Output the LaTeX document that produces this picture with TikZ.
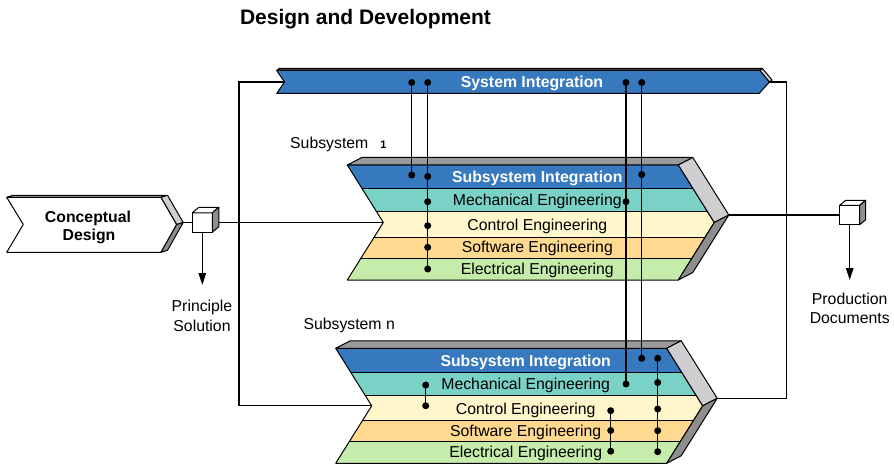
\documentclass[tikz,border=0pt]{standalone}
\usepackage{fontspec}
\setmainfont{Liberation Sans}
\usetikzlibrary{arrows.meta}

\definecolor{sysblue}{HTML}{3779BE}
\definecolor{mechteal}{HTML}{7AD2C6}
\definecolor{ctrlyellow}{HTML}{FFF6CC}
\definecolor{softorange}{HTML}{FFD98F}
\definecolor{elecgreen}{HTML}{C5ECAA}
\definecolor{topgrey}{HTML}{9A9A9A}
\definecolor{bevellight}{HTML}{CFCFD2}
\definecolor{beveldark}{HTML}{8E8E8E}

\tikzset{
  outline/.style={draw=black, line width=1pt, line join=round},
  wire/.style={draw=black, line width=1.3pt},
  loopwire/.style={draw=black, line width=1.1pt},
  junction/.style={circle, fill=black, inner sep=0pt, minimum size=7pt},
  bandtext/.style={font=\fontsize{15.8}{18}\selectfont, inner sep=0pt,
    text height=11.3pt, text depth=0pt},
  bandhead/.style={bandtext, font=\bfseries\fontsize{15.8}{18}\selectfont, text=white},
  plainlabel/.style={bandtext, text=black},
  boldlabel/.style={bandtext, font=\bfseries\fontsize{15.8}{18}\selectfont},
  cubefront/.style={draw=black, line width=1pt, fill=white, minimum width=20pt,
    minimum height=19.4pt, inner sep=0pt, outer sep=0pt},
  outarrow/.style={wire, -{Triangle[length=12pt,width=7.5pt]}},
}

% One engineering subsystem: a 3D chevron with five discipline bands.
% #1 = name prefix, #2 = left x, #3 = top y
\newcommand\subsysblock[3]{%
  \begin{scope}[shift={(#2,#3)}]
    \coordinate (#1-notch) at (36,57.5);
    \coordinate (#1-tip) at (381.5,50);
    \begin{scope}
      \clip (0,0) -- (331,0) -- (367,57.5) -- (331,115) -- (0,115) -- (36,57.5) -- cycle;
      \fill[sysblue]    (0,0)  rectangle (370,24);
      \fill[mechteal]   (0,24) rectangle (370,47);
      \fill[ctrlyellow] (0,47) rectangle (370,72);
      \fill[softorange] (0,72) rectangle (370,93);
      \fill[elecgreen]  (0,93) rectangle (370,115);
      \draw[line width=1pt] (0,24) -- (370,24) (0,47) -- (370,47)
                            (0,72) -- (370,72) (0,93) -- (370,93);
    \end{scope}
    \draw[outline] (0,0) -- (331,0) -- (367,57.5) -- (331,115) -- (0,115) -- (36,57.5) -- cycle;
    \filldraw[outline, fill=topgrey] (0,0) -- (14.5,-7.5) -- (345.5,-7.5) -- (331,0) -- cycle;
    \filldraw[outline, fill=bevellight] (331,0) -- (345.5,-7.5) -- (381.5,50) -- (367,57.5) -- cycle;
    \filldraw[outline, fill=beveldark] (367,57.5) -- (381.5,50) -- (345.5,107.5) -- (331,115) -- cycle;
    \node[bandhead] (#1-int)  at (190,12.3) {Subsystem Integration};
    \node[bandtext] (#1-mech) at (190,35.3) {Mechanical Engineering};
    \node[bandtext] (#1-ctrl) at (190,60.3) {Control Engineering};
    \node[bandtext] (#1-soft) at (190,82.3) {Software Engineering};
    \node[bandtext] (#1-elec) at (190,104)  {Electrical Engineering};
  \end{scope}%
}

\begin{document}
\begin{tikzpicture}[x=1pt, y=-1pt]
  \useasboundingbox (0,0) rectangle (894,465);

  % title
  \node[font=\bfseries\fontsize{21}{24}\selectfont, inner sep=0pt,
        text height=15pt, text depth=0pt] (title) at (365.5,17.5) {Design and Development};

  % system integration bar
  \filldraw[outline, fill=sysblue] (276.7,70.5) -- (760,70.5) -- (769.5,82) -- (759,93.5)
      -- (276.7,93.5) -- (284.5,82) -- cycle;
  \filldraw[outline, fill=black!75] (276.7,70.5) -- (279.2,68.5) -- (762.5,68.5) -- (760,70.5) -- cycle;
  \filldraw[outline, fill=bevellight] (760,70.5) -- (762.5,68.5) -- (772,80) -- (769.5,82) -- cycle;
  \coordinate (si-notch) at (284.5,82);
  \coordinate (si-tip) at (769.5,82);
  \node[bandhead] (si-text) at (532,82) {System Integration};

  % conceptual design
  \filldraw[outline, fill=white] (6.7,197.3) -- (161,197.3) -- (176.7,224.5) -- (161,252.3)
      -- (6.7,252.3) -- (23.3,224.5) -- cycle;
  \filldraw[outline, fill=topgrey] (6.7,197.3) -- (13.2,195.3) -- (167.5,195.3) -- (161,197.3) -- cycle;
  \filldraw[outline, fill=bevellight] (161,197.3) -- (167.5,195.3) -- (183.2,222.5) -- (176.7,224.5) -- cycle;
  \filldraw[outline, fill=beveldark] (176.7,224.5) -- (183.2,222.5) -- (167.5,250.3) -- (161,252.3) -- cycle;
  \coordinate (cd-tip) at (183.2,222.5);
  \node[boldlabel] (cd-l1) at (88,216.7) {Conceptual};
  \node[boldlabel] (cd-l2) at (89,235) {Design};

  % subsystems
  \subsysblock{s1}{347.3}{165}
  \subsysblock{sn}{335.7}{348.3}
  \node[plainlabel, anchor=west] (s1-label) at (290,143)
      {Subsystem\hspace{12pt}{\bfseries\fontsize{11}{12}\selectfont 1}};
  \node[plainlabel, anchor=west] (sn-label) at (303.3,323.5) {Subsystem n};

  % result cubes
  \node[cubefront] (cubeL) at (202.3,222.5) {};
  \filldraw[outline, fill=white] (cubeL.north west) -- ++(6.5,-5.5) -- ++(20,0) -- (cubeL.north east) -- cycle;
  \filldraw[outline, fill=beveldark] (cubeL.north east) -- ++(6.5,-5.5) -- ++(0,19.4) -- (cubeL.south east) -- cycle;
  \node[cubefront] (cubeR) at (849.7,215) {};
  \filldraw[outline, fill=white] (cubeR.north west) -- ++(6,-5) -- ++(20,0) -- (cubeR.north east) -- cycle;
  \filldraw[outline, fill=beveldark] (cubeR.north east) -- ++(6,-5) -- ++(0,19.4) -- (cubeR.south east) -- cycle;

  \coordinate (prin-end) at (202.3,285);
  \coordinate (prod-end) at (849.7,280);
  \node[plainlabel] (prin-l1) at (202,306) {Principle};
  \node[plainlabel] (prin-l2) at (202,325.7) {Solution};
  \node[plainlabel] (prod-l1) at (849.7,299.3) {Production};
  \node[plainlabel] (prod-l2) at (849.7,317.7) {Documents};

  % flow connectors
  \draw[loopwire] (cd-tip) -- (cubeL.west);
  \draw[loopwire] ([xshift=6.5pt]cubeL.east) -- (s1-notch);
  \draw[loopwire] (s1-tip) -- (cubeR.west);
  \draw[loopwire] (si-notch) -- ++(-45.5,0) |- (sn-notch);
  \draw[loopwire] (si-tip) -- ++(17.2,0) |- (sn-tip);
  \draw[outarrow] (cubeL.south) -- (prin-end);
  \draw[outarrow] (cubeR.south) -- (prod-end);

  % coordination junctions
  \node[junction] (si-a) at (411.7,82.5) {};
  \node[junction] (si-b) at (427.7,82.5) {};
  \node[junction] (si-c) at (626,82.5) {};
  \node[junction] (si-d) at (641.7,82.5) {};

  \node[junction] (s1-a)  at (411.7,175) {};
  \node[junction] (s1-b1) at (427.7,176.5) {};
  \node[junction] (s1-b2) at (427.7,201.7) {};
  \node[junction] (s1-b3) at (427.7,225.7) {};
  \node[junction] (s1-b4) at (427.7,247.3) {};
  \node[junction] (s1-b5) at (427.7,269) {};
  \node[junction] (s1-c)  at (626,201.7) {};
  \node[junction] (s1-d)  at (641.7,174.5) {};

  \node[junction] (sn-d)  at (641.7,358.3) {};
  \node[junction] (sn-c)  at (626,384) {};
  \node[junction] (sn-e1) at (657.7,358.3) {};
  \node[junction] (sn-e2) at (657.7,382.5) {};
  \node[junction] (sn-e3) at (657.7,409) {};
  \node[junction] (sn-e4) at (657.7,430.7) {};
  \node[junction] (sn-e5) at (657.7,451.7) {};
  \node[junction] (sn-f1) at (610.7,410.7) {};
  \node[junction] (sn-f2) at (610.7,430.5) {};
  \node[junction] (sn-f3) at (610.7,451.2) {};
  \node[junction] (sn-g1) at (425.7,385) {};
  \node[junction] (sn-g2) at (425.7,405.7) {};

  \draw[wire] (si-a.center) -- (s1-a.center);
  \draw[wire] (si-b.center) -- (s1-b5.center);
  \draw[wire] (si-c.center) -- (sn-c.center);
  \draw[wire] (si-d.center) -- (sn-d.center);
  \draw[wire] (sn-e1.center) -- (sn-e5.center);
  \draw[wire] (sn-f1.center) -- (sn-f3.center);
  \draw[wire] (sn-g1.center) -- (sn-g2.center);
\end{tikzpicture}
\end{document}
